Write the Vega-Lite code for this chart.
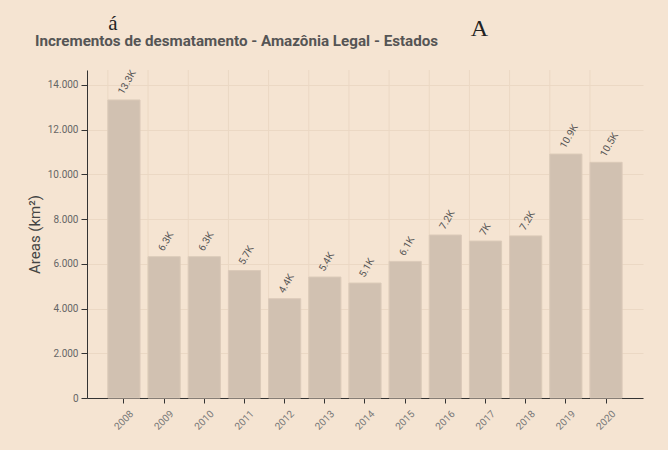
{
  "$schema": "https://vega.github.io/schema/vega-lite/v6.json",
  "width": 556,
  "height": 328,
  "autosize": {"type": "none"},
  "padding": {"left": 87, "top": 70, "right": 25, "bottom": 52},
  "background": "#f5e4d2",
  "title": {
    "text": "Incrementos de desmatamento - Amazônia Legal - Estados",
    "anchor": "start",
    "frame": "group",
    "dx": -52,
    "offset": -48,
    "baseline": "alphabetic",
    "font": "Roboto",
    "fontSize": 15.2,
    "fontWeight": "bold",
    "color": "#555555"
  },
  "config": {
    "locale": {"number": {"decimal": ",", "thousands": ".", "grouping": [3], "currency": ["R$", ""]}},
    "view": {"stroke": null},
    "axis": {"labelFont": "Roboto", "titleFont": "Roboto", "domainColor": "#333333", "tickColor": "#333333", "gridColor": "#ebd8c4"}
  },
  "data": {
    "values": [
      {"ano": "2008", "area": 13330, "rotulo": "13.3K"},
      {"ano": "2009", "area": 6320, "rotulo": "6.3K"},
      {"ano": "2010", "area": 6320, "rotulo": "6.3K"},
      {"ano": "2011", "area": 5700, "rotulo": "5.7K"},
      {"ano": "2012", "area": 4440, "rotulo": "4.4K"},
      {"ano": "2013", "area": 5410, "rotulo": "5.4K"},
      {"ano": "2014", "area": 5140, "rotulo": "5.1K"},
      {"ano": "2015", "area": 6110, "rotulo": "6.1K"},
      {"ano": "2016", "area": 7290, "rotulo": "7.2K"},
      {"ano": "2017", "area": 7020, "rotulo": "7K"},
      {"ano": "2018", "area": 7250, "rotulo": "7.2K"},
      {"ano": "2019", "area": 10910, "rotulo": "10.9K"},
      {"ano": "2020", "area": 10540, "rotulo": "10.5K"}
    ]
  },
  "layer": [
    {
      "mark": {"type": "rule", "color": "#ebd8c4", "strokeWidth": 1},
      "encoding": {
        "x": {"field": "ano", "type": "ordinal", "bandPosition": 0}
      }
    },
    {
      "mark": {"type": "bar", "fill": "#d1c1b1", "stroke": "#dbcab9", "strokeWidth": 1},
      "encoding": {
        "x": {
          "field": "ano",
          "type": "ordinal",
          "scale": {"paddingInner": 0.2, "paddingOuter": 0.52},
          "axis": {
            "title": null,
            "grid": false,
            "labelAngle": -45,
            "labelAlign": "right",
            "labelBaseline": "middle",
            "labelPadding": 9,
            "labelOffset": 8,
            "labelFontSize": 10,
            "labelColor": "#777777",
            "tickSize": 5
          }
        },
        "y": {
          "field": "area",
          "type": "quantitative",
          "scale": {"domain": [0, 14670], "nice": false},
          "axis": {
            "title": "Areas (km²)",
            "titleFontSize": 15,
            "titleFontWeight": "normal",
            "titleColor": "#444444",
            "titlePadding": 5,
            "values": [0, 2000, 4000, 6000, 8000, 10000, 12000, 14000],
            "format": ",.0f",
            "labelFontSize": 10,
            "labelColor": "#666666",
            "labelPadding": 3,
            "tickSize": 6,
            "grid": true
          }
        }
      }
    },
    {
      "mark": {"type": "text", "angle": 300, "align": "left", "baseline": "middle", "dx": 4, "dy": -6, "font": "Roboto", "fontSize": 10, "color": "#555555"},
      "encoding": {
        "x": {"field": "ano", "type": "ordinal"},
        "y": {"field": "area", "type": "quantitative"},
        "text": {"field": "rotulo"}
      }
    },
    {
      "data": {"values": [{"sinal": "á", "ano": "2008", "pos": 16460}]},
      "mark": {"type": "text", "font": "Liberation Serif", "fontSize": 21, "align": "center", "baseline": "alphabetic", "dx": -11, "color": "#222222", "clip": false},
      "encoding": {
        "x": {"field": "ano", "type": "ordinal"},
        "y": {"field": "pos", "type": "quantitative"},
        "text": {"field": "sinal"}
      }
    },
    {
      "data": {"values": [{"sinal": "A", "ano": "2017", "pos": 16190}]},
      "mark": {"type": "text", "font": "Liberation Serif", "fontSize": 24, "align": "center", "baseline": "alphabetic", "dx": -6, "color": "#222222", "clip": false},
      "encoding": {
        "x": {"field": "ano", "type": "ordinal"},
        "y": {"field": "pos", "type": "quantitative"},
        "text": {"field": "sinal"}
      }
    }
  ]
}
